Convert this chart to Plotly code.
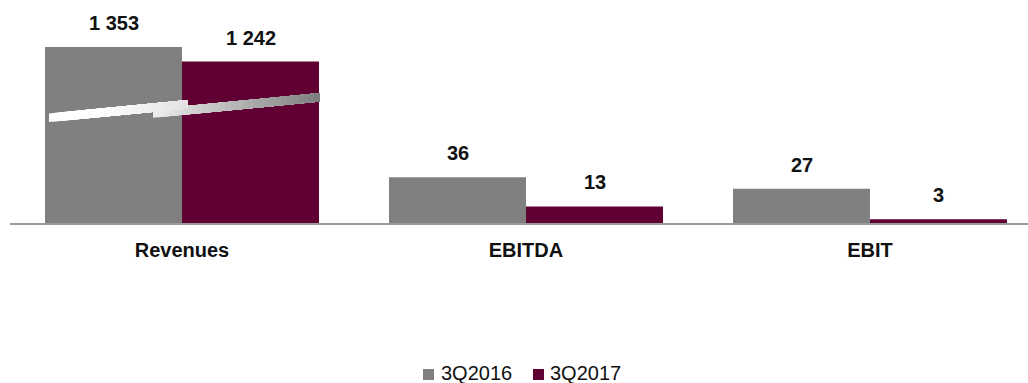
import plotly.graph_objects as go

# Quarterly comparison data
categories = ["Revenues", "EBITDA", "EBIT"]
series_names = ["3Q2016", "3Q2017"]
values_2016 = [1353, 36, 27]
values_2017 = [1242, 13, 3]
label_2016 = ["1 353", "36", "27"]
label_2017 = ["1 242", "13", "3"]

COLORS = ["#808080", "#610033"]
FONT = "Liberation Sans, Arial, sans-serif"

# Plot-area geometry in pixels
FIG_W, FIG_H = 1028, 383
M_L, M_R, M_T, M_B = 10, 0, 10, 160
PW = FIG_W - M_L - M_R
PH = FIG_H - M_T - M_B
CAT_PX = 344.0          # width of one category slot
BAR_W = 137.0 / CAT_PX  # bar width in category units

x_pos = list(range(len(categories)))
x_min = -0.5
x_max = x_min + PW / CAT_PX

# Revenues are plotted on a compressed secondary scale (broken-axis style)
Y_SMALL_MAX = PH / 1.27
Y_REV_MAX = PH / 0.130

fig = go.Figure()

all_vals = [values_2016, values_2017]
all_labels = [label_2016, label_2017]
offsets = [-BAR_W, 0.0]

for s, name in enumerate(series_names):
    vals = all_vals[s]
    # Revenues on the compressed axis
    fig.add_trace(go.Bar(
        x=[x_pos[0]], y=[vals[0]], name=name, yaxis="y2",
        width=BAR_W, offset=offsets[s],
        marker=dict(color=COLORS[s], line=dict(width=0)),
        showlegend=False, hoverinfo="skip",
    ))
    # EBITDA / EBIT on the main axis
    fig.add_trace(go.Bar(
        x=x_pos[1:], y=vals[1:], name=name, yaxis="y",
        width=BAR_W, offset=offsets[s],
        marker=dict(color=COLORS[s], line=dict(width=0)),
        showlegend=False, hoverinfo="skip",
    ))

# Value labels above each bar
annotations = []
for s in range(2):
    for i, v in enumerate(all_vals[s]):
        annotations.append(dict(
            x=x_pos[i] + offsets[s] + BAR_W / 2, y=v,
            xref="x", yref="y2" if i == 0 else "y",
            text=all_labels[s][i], showarrow=False,
            xanchor="center", yanchor="middle", yshift=24,
            font=dict(family=FONT, size=20, color="#111111", weight="bold"),
        ))

# Legend drawn as squares + text
def xp(px):
    return (px - M_L) / PW

def yp(py):
    return (M_T + PH - py) / PH

shapes = []
legend_items = [(423, 439), (533, 548)]
for s, (sq_x, tx_x) in enumerate(legend_items):
    shapes.append(dict(
        type="rect", xref="paper", yref="paper",
        x0=xp(sq_x), x1=xp(sq_x + 11), y0=yp(380), y1=yp(369),
        fillcolor=COLORS[s], line=dict(width=0),
    ))
    annotations.append(dict(
        x=xp(tx_x), y=yp(372.5), xref="paper", yref="paper",
        text=series_names[s], showarrow=False,
        xanchor="left", yanchor="middle",
        font=dict(family=FONT, size=20, color="#111111"),
    ))

# Break marker across the Revenues bars: two slanted bands with a grey
# gradient. Each slice runs to the band's end and the next one is painted
# over it, so no seams show between slices.
def band(x_start, x_end, y_start_bottom, c_start, c_end, n=30, flat_until=0.0):
    slope = -0.097
    thick = 8.5
    out = []
    yb_end = y_start_bottom + slope * (x_end - x_start)
    for k in range(n):
        a = x_start + (x_end - x_start) * k / n
        ya_b = y_start_bottom + slope * (a - x_start)
        t = (k + 0.5) / n
        t = max(0.0, (t - flat_until) / (1.0 - flat_until))
        c = tuple(round(c_start[j] + (c_end[j] - c_start[j]) * t) for j in range(3))
        col = "rgb(%d,%d,%d)" % c
        path = "M %f,%f L %f,%f L %f,%f L %f,%f Z" % (
            xp(a), yp(ya_b), xp(x_end), yp(yb_end),
            xp(x_end), yp(yb_end - thick), xp(a), yp(ya_b - thick))
        out.append(dict(type="path", xref="paper", yref="paper", path=path,
                        fillcolor=col, line=dict(width=0), layer="above"))
    return out

shapes += band(153, 320, 117.7, (238, 238, 238), (125, 125, 125))
shapes += band(49, 188, 122.0, (255, 255, 255), (226, 226, 226), flat_until=0.35)

fig.update_layout(
    width=FIG_W, height=FIG_H,
    margin=dict(l=M_L, r=M_R, t=M_T, b=M_B),
    paper_bgcolor="white", plot_bgcolor="white",
    barmode="overlay",
    showlegend=False,
    font=dict(family=FONT, color="#111111"),
    xaxis=dict(
        range=[x_min, x_max], tickmode="array", tickvals=x_pos,
        ticktext=categories, showgrid=False, zeroline=False,
        showline=True, linecolor="#9a9a9a", linewidth=2, ticks="",
        tickfont=dict(family=FONT, size=20, color="#111111", weight="bold"),
        ticklabelstandoff=8,
    ),
    yaxis=dict(range=[0, Y_SMALL_MAX], visible=False, showgrid=False),
    yaxis2=dict(range=[0, Y_REV_MAX], overlaying="y", visible=False,
                showgrid=False),
    annotations=annotations,
    shapes=shapes,
)

fig.write_html("out.html")
